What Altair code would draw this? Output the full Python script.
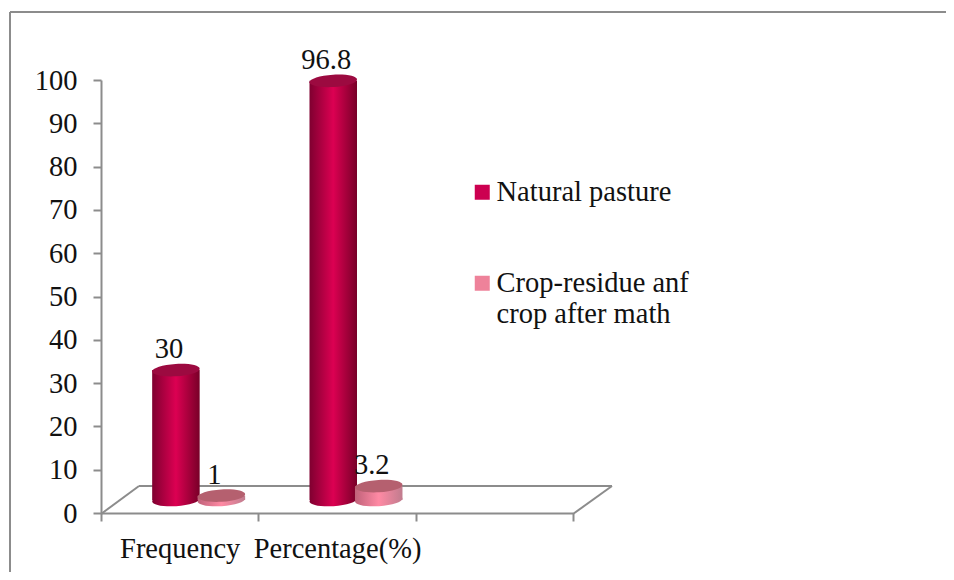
import altair as alt
import pandas as pd

categories = ["Frequency", "Percentage(%)", ""]
series = ["Natural pasture", "Crop-residue anf crop after math"]
natural = [30, 96.8]
residue = [1, 3.2]
labels_natural = ["30", "96.8"]
labels_residue = ["1", "3.2"]

rows = []
for i, cat in enumerate(categories[:2]):
    rows.append({"cat": cat, "series": series[0], "value": natural[i], "label": labels_natural[i]})
    rows.append({"cat": cat, "series": series[1], "value": residue[i], "label": labels_residue[i]})
df = pd.DataFrame(rows)

FONT = "Liberation Serif"
FS = 28.5
GREY = "#8c8c8c"
TXT = "#111111"
W, H = 472, 433
DY = -13  # half of the floor depth
CYL = 47.5
ELL = "M-1,0.06 A1,0.26 -3.5 1 1 1,-0.06 A1,0.26 -3.5 1 1 -1,0.06 Z"


def grad(edge_l, mid, edge_r):
    return alt.LinearGradient(
        gradient="linear", x1=0, x2=1, y1=0, y2=0,
        stops=[alt.GradientStop(offset=0, color=edge_l),
               alt.GradientStop(offset=0.5, color=mid),
               alt.GradientStop(offset=1, color=edge_r)])


def enc_x():
    return dict(
        x=alt.X("cat:N", title=None,
                scale=alt.Scale(domain=categories, padding=0),
                axis=alt.Axis(labelAngle=0, tickBand="extent", labelFont=FONT, labelFontSize=FS,
                              labelColor=TXT, labelPadding=13, labelLimit=0, labelOverlap=False,
                              domainColor=GREY, domainWidth=2, tickColor=GREY, tickWidth=2,
                              tickSize=8, grid=False)),
        xOffset=alt.XOffset("series:N", sort=series,
                            scale=alt.Scale(domain=series, paddingInner=0, paddingOuter=0.73, align=0.786)),
        y=alt.Y("value:Q", title=None,
                scale=alt.Scale(domain=[0, 100], nice=False),
                axis=alt.Axis(values=list(range(0, 101, 10)), labelFont=FONT, labelFontSize=FS,
                              labelColor=TXT, labelPadding=16, domainColor=GREY, domainWidth=2,
                              tickColor=GREY, tickWidth=2, tickSize=8, grid=False)),
    )


def line(x, y, x2, y2):
    return alt.Chart(alt.Data(values=[{}])).mark_rule(color=GREY, strokeWidth=2).encode(
        x=alt.value(x), y=alt.value(y), x2=alt.value(x2), y2=alt.value(y2))


base = alt.Chart(df)
frame = [line(-91, -68, -91, 500), line(-91, -68, 845, -68)]
floor = [line(38, 406, 511, 406), line(0, 434, 38, 406), line(472, 434, 511, 406)]


def by_series(name, edge_l, mid, edge_r, top):
    d = base.transform_filter(alt.datum.series == name)
    g = grad(edge_l, mid, edge_r)
    body = d.mark_bar(size=CYL, yOffset=DY, y2Offset=DY, color=g).encode(**enc_x())
    bottom = d.mark_point(shape=ELL, size=CYL ** 2, filled=True, opacity=1, fill=g,
                          yOffset=DY, strokeWidth=0).encode(
        x=enc_x()["x"], xOffset=enc_x()["xOffset"], y=alt.Y("zero:Q", title=None)).transform_calculate(zero="0")
    cap = d.mark_point(shape=ELL, size=CYL ** 2, filled=True, opacity=1, fill=top,
                       yOffset=DY, strokeWidth=0).encode(**enc_x())
    return [bottom, body, cap]


red = by_series(series[0], "#7f0030", "#dc0052", "#780028", "#9c0a40")
pink = by_series(series[1], "#c0627a", "#ff8aa4", "#c07c8e", "#b5606f")

texts = base.mark_text(font=FONT, fontSize=FS, color=TXT, baseline="middle", align="center",
                       dx=-7, yOffset=DY - 21).encode(text="label:N", **enc_x())

legend_layer = base.mark_square(opacity=0, size=225).encode(
    color=alt.Color("series:N", title=None,
                    scale=alt.Scale(domain=series, range=["#cc0050", "#ee829a"]),
                    legend=alt.Legend(orient="none", legendX=367, legendY=98, symbolType="square",
                                      symbolSize=225, symbolOpacity=1, symbolStrokeWidth=0,
                                      labelFont=FONT, labelFontSize=FS, labelColor=TXT, labelLimit=0,
                                      rowPadding=62, labelOffset=0,
                                      labelExpr="datum.label == 'Crop-residue anf crop after math' ? ['Crop-residue anf', 'crop after math'] : datum.label")))

chart = alt.layer(*frame, *floor, *red, *pink, texts, legend_layer).properties(
    width=W, height=H, autosize="none",
    padding={"left": 93, "top": 72, "right": 373, "bottom": 59},
).configure_view(stroke=None)

chart.save("out.html", embed_options={"renderer": "svg", "actions": False})
